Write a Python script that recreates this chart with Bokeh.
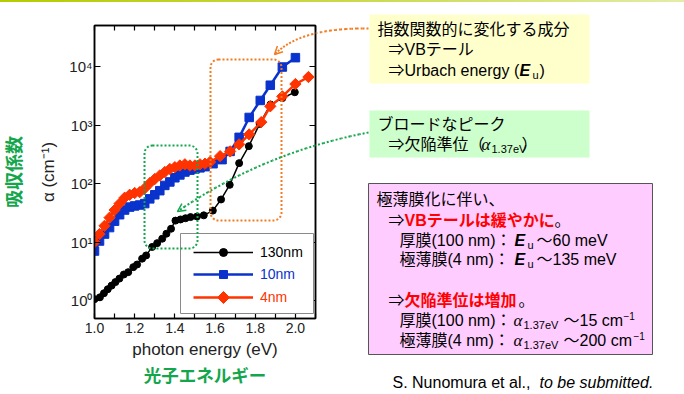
import numpy as np
from bokeh.plotting import figure
from bokeh.layouts import row, column
from bokeh.models import (Range1d, LinearScale, LogAxis, LinearAxis, Legend, LegendItem,
                          BoxAnnotation, Label, Arrow, OpenHead, ColumnDataSource, Div,
                          FixedTicker, CustomJSTickFormatter, PrintfTickFormatter)
from bokeh.embed import file_html
from bokeh.resources import INLINE

# ---------------- data ----------------
energy_130nm = [1.000, 1.027, 1.047, 1.066, 1.085, 1.104, 1.124, 1.146, 1.168, 1.193, 1.212,
                1.237, 1.257, 1.287, 1.312, 1.337, 1.358, 1.381, 1.403, 1.428, 1.453, 1.478,
                1.510, 1.544, 1.589, 1.630, 1.673, 1.720, 1.768, 1.822, 1.876, 1.935, 1.997]
alpha_130nm = [1.07, 1.15, 1.35, 1.58, 1.82, 2.09, 2.40, 2.82, 3.09, 3.76, 4.17,
               5.25, 5.96, 8.32, 9.66, 11.5, 14.0, 17.0, 23.4, 24.5, 25.7, 26.9,
               27.5, 28.8, 34.7, 53.7, 95.5, 224, 437, 1047, 2239, 2884, 3631]

energy_10nm = [1.000, 1.025, 1.050, 1.075, 1.100, 1.125, 1.150, 1.175, 1.200, 1.225, 1.250,
               1.275, 1.300, 1.325, 1.350, 1.375, 1.400, 1.425, 1.450, 1.475, 1.500, 1.525,
               1.550, 1.590, 1.635, 1.675, 1.720, 1.770, 1.825, 1.875, 1.935, 2.000]
alpha_10nm = [7.08, 10.5, 13.8, 17.8, 22.9, 29.5, 35.5, 39.8, 41.7, 43.2, 45.7,
              55.0, 64.6, 75.9, 93.3, 107, 126, 141, 158, 170, 178, 186,
              195, 219, 257, 355, 617, 1349, 2630, 4786, 9772, 14125]

energy_4nm = [1.000, 1.025, 1.050, 1.075, 1.100, 1.125, 1.150, 1.175, 1.200, 1.225, 1.250,
              1.275, 1.300, 1.325, 1.350, 1.375, 1.400, 1.425, 1.450, 1.475, 1.500, 1.525,
              1.550, 1.575, 1.625, 1.675, 1.720, 1.770, 1.830, 1.875, 1.935, 2.000, 2.065]
alpha_4nm = [10.0, 13.8, 19.1, 26.3, 35.5, 45.7, 57.5, 64.6, 69.2, 71.6, 83.2,
             102, 120, 138, 158, 178, 191, 204, 214, 204, 204, 214,
             219, 234, 295, 355, 468, 692, 1122, 2089, 3090, 5012, 6607]

series_labels = ["130nm", "10nm", "4nm"]
x_ticks = [1.0, 1.2, 1.4, 1.6, 1.8, 2.0]
x_minor_ticks = [1.1, 1.3, 1.5, 1.7, 1.9, 2.1]
y_ticks = [1, 10, 100, 1000, 10000]
y_tick_labels = ["10\u2070", "10\u00b9", "10\u00b2", "10\u00b3", "10\u2074"]

# ---------------- styles ----------------
BLACK = "#000000"
BLUE = "#0a32cc"
RED = "#ff3300"
GREEN = "#14a64c"
ORANGE = "#f47b20"
FONT = "Liberation Sans, Noto Sans CJK JP"
TOPLINE = 2   # height of the decorative rule at the top of the page

# ================= left figure: the chart =================
p = figure(width=317, height=394 - TOPLINE, output_backend="svg", toolbar_location=None,
           x_range=Range1d(1.0, 2.1), y_range=Range1d(0.5, 5e4), y_axis_type="log",
           min_border_left=94, min_border_right=2, min_border_top=25 - TOPLINE,
           min_border_bottom=76)
p.frame_align = False
p.xgrid.visible = False
p.ygrid.visible = False
p.outline_line_color = "black"
p.outline_line_width = 1.5
p.background_fill_color = "white"
p.border_fill_color = "white"

# pixel-coordinate ranges (reference image coords) for annotations inside the frame
p.extra_x_ranges = {"px": Range1d(94, 315)}
p.extra_y_ranges = {"py": Range1d(318, 25)}
p.extra_x_scales = {"px": LinearScale()}
p.extra_y_scales = {"py": LinearScale()}

# bottom axis
xa = p.xaxis[0]
xa.ticker = FixedTicker(ticks=x_ticks, minor_ticks=x_minor_ticks)
xa.formatter = PrintfTickFormatter(format="%.1f")
xa.major_tick_in = 5
xa.major_tick_out = 0
xa.minor_tick_in = 5
xa.minor_tick_out = 0
xa.axis_line_width = 1.5
xa.major_tick_line_width = 1.2
xa.minor_tick_line_width = 1.2
xa.major_label_text_font = FONT
xa.major_label_text_font_size = "14px"
xa.major_label_text_color = "#222222"
xa.major_label_standoff = 4
xa.axis_label = "photon energy (eV)"
xa.axis_label_text_font = FONT
xa.axis_label_text_font_size = "17px"
xa.axis_label_text_font_style = "normal"
xa.axis_label_text_color = "#222222"
xa.axis_label_standoff = 4

# left axis
ya = p.yaxis[0]
ya.ticker = FixedTicker(ticks=y_ticks, minor_ticks=[])
ya.formatter = CustomJSTickFormatter(args=dict(labels=y_tick_labels),
                                     code="return labels[Math.round(Math.log10(tick))];")
ya.major_tick_in = 6
ya.major_tick_out = 0
ya.axis_line_width = 1.5
ya.major_tick_line_width = 1.2
ya.major_label_text_font = FONT
ya.major_label_text_font_size = "15px"
ya.major_label_text_color = "#222222"
ya.major_label_standoff = 2
ya.axis_label = "\u03b1 (cm\u207b\u00b9)"
ya.axis_label_text_font = FONT
ya.axis_label_text_font_size = "17px"
ya.axis_label_text_font_style = "normal"
ya.axis_label_text_color = "#222222"
ya.axis_label_standoff = 8

# green Japanese captions as outer axes (no ticks, no line)
ya2 = LogAxis(ticker=FixedTicker(ticks=[], minor_ticks=[]), axis_line_color=None,
              major_tick_line_color=None, minor_tick_line_color=None,
              axis_label="吸収係数", axis_label_text_font=FONT, axis_label_text_font_size="18px",
              axis_label_text_font_style="bold", axis_label_text_color=GREEN,
              axis_label_standoff=12)
p.add_layout(ya2, "left")
xa2 = LinearAxis(ticker=FixedTicker(ticks=[], minor_ticks=[]), axis_line_color=None,
                 major_tick_line_color=None, minor_tick_line_color=None,
                 axis_label="光子エネルギー", axis_label_text_font=FONT,
                 axis_label_text_font_size="17.5px", axis_label_text_font_style="bold",
                 axis_label_text_color=GREEN, axis_label_standoff=4)
p.add_layout(xa2, "below")

blank = CustomJSTickFormatter(code="return '';")
ra = LogAxis(ticker=FixedTicker(ticks=y_ticks, minor_ticks=[]), formatter=blank,
             major_tick_in=6, major_tick_out=0, major_label_standoff=0,
             axis_line_width=1.5, major_tick_line_width=1.2)
p.add_layout(ra, "right")
ta = LinearAxis(ticker=FixedTicker(ticks=x_ticks, minor_ticks=x_minor_ticks), formatter=blank,
                major_tick_in=5, major_tick_out=0, minor_tick_in=5, minor_tick_out=0,
                major_label_standoff=0, axis_line_width=1.5,
                major_tick_line_width=1.2, minor_tick_line_width=1.2)
p.add_layout(ta, "above")

# ---------------- data glyphs ----------------
l130 = p.line(energy_130nm, alpha_130nm, line_color=BLACK, line_width=1.5)
s130 = p.scatter(energy_130nm, alpha_130nm, marker="circle", size=7, color=BLACK)
l10 = p.line(energy_10nm, alpha_10nm, line_color=BLUE, line_width=2.5)
s10 = p.scatter(energy_10nm, alpha_10nm, marker="square", size=8.5, color=BLUE)
l4 = p.line(energy_4nm, alpha_4nm, line_color=RED, line_width=2.5)
s4 = p.scatter(energy_4nm, alpha_4nm, marker="square", angle=np.pi / 4, size=8, color=RED)


def box(fig, l, r, t, b, fill=None, line=None, lw=1, dash="solid", radius=0, px=True):
    kw = dict(x_range_name="px", y_range_name="py") if px else {}
    ba = BoxAnnotation(left=l, right=r, top=t, bottom=b,
                       fill_color=fill if fill else "white", fill_alpha=1 if fill else 0,
                       line_color=line, line_alpha=1, line_width=lw, line_dash=dash,
                       border_radius=radius, level="annotation", **kw)
    fig.add_layout(ba)
    return ba


def lab(fig, x, y, text, size=16, color="black", style="normal", font=FONT, align="left"):
    lb = Label(x=x, y=y, text=text, text_font_size=f"{size}px", text_color=color,
               text_font_style=style, text_font=font, text_align=align,
               text_baseline="middle")
    fig.add_layout(lb)
    return lb


# legend frame
box(p, 180, 313, 233, 313, fill="white", line="#8a8a8a", lw=1)

legend_renderers = [[l130, s130], [l10, s10], [l4]]
for rends, lbl, col, vy in zip(legend_renderers, series_labels, [BLACK, BLUE, RED], [56, 34, 11]):
    leg = Legend(items=[LegendItem(label=lbl, renderers=rends)], location=(99, vy),
                 glyph_width=60, glyph_height=20, label_height=20, label_standoff=7,
                 padding=0, margin=0, spacing=0, border_line_color=None,
                 background_fill_alpha=0, label_text_color=col, label_text_font=FONT,
                 label_text_font_size="14px")
    p.add_layout(leg)

# diamond swatch for the 4nm legend entry (legend glyphs are drawn unrotated)
p.scatter(x=[223], y=[297], marker="square", angle=np.pi / 4, size=8.5, color=RED,
          x_range_name="px", y_range_name="py", level="overlay")

# dotted highlight boxes in the chart
box(p, 210, 281, 59, 220, line=ORANGE, lw=2, dash="2 2", radius=8)
box(p, 144, 197, 145, 248, line=GREEN, lw=2, dash="2 2", radius=8)


def curve(fig, p0, p1, p2, color, head, px=True, n=24):
    kw = dict(x_range_name="px", y_range_name="py") if px else {}
    t = np.linspace(0, 1, n)
    xs = (1 - t) ** 2 * p0[0] + 2 * (1 - t) * t * p1[0] + t ** 2 * p2[0]
    ys = (1 - t) ** 2 * p0[1] + 2 * (1 - t) * t * p1[1] + t ** 2 * p2[1]
    src = ColumnDataSource(dict(x0=xs[:-2], y0=ys[:-2], x1=xs[1:-1], y1=ys[1:-1]))
    fig.add_layout(Arrow(source=src, x_start="x0", y_start="y0", x_end="x1", y_end="y1",
                         end=None, line_color=color, line_width=2, line_dash="2 2", **kw))
    if head:
        fig.add_layout(Arrow(x_start=xs[-2], y_start=ys[-2], x_end=xs[-1], y_end=ys[-1],
                             end=OpenHead(size=8, line_color=color, line_width=1.5),
                             line_color=color, line_width=2, line_dash="2 2", **kw))


ORANGE_CURVE = ((368, 28), (300, 27), (274, 54))
GREEN_CURVE = ((368, 132), (263, 152), (177, 211))
curve(p, *ORANGE_CURVE, ORANGE, True)
curve(p, *GREEN_CURVE, GREEN, True)

# ================= right figure: the notes =================
q = figure(width=367, height=394 - TOPLINE, output_backend="svg", toolbar_location=None,
           x_range=Range1d(317, 684), y_range=Range1d(394, TOPLINE), min_border=0,
           x_axis_location=None, y_axis_location=None)
q.frame_align = False
q.xgrid.visible = False
q.ygrid.visible = False
q.outline_line_color = None
q.background_fill_color = "white"
q.border_fill_color = "white"

curve(q, *ORANGE_CURVE, ORANGE, False, px=False)
curve(q, *GREEN_CURVE, GREEN, False, px=False)

# yellow box
box(q, 369, 589, 14, 83, fill="#ffffcc", px=False)
lab(q, 377, 29, "指数関数的に変化する成分")
lab(q, 388, 49, "⇒VBテール")
lab(q, 388, 70, "⇒Urbach energy (")
lab(q, 519, 70, "E", style="bold italic")
lab(q, 532, 74, "u", size=11)
lab(q, 539, 70, ")")

# green box
box(q, 369, 589, 110, 157, fill="#ccffcc", px=False)
lab(q, 377, 124, "ブロードなピーク")
lab(q, 388, 144, "⇒欠陥準位（")
lab(q, 481, 144, "α", size=17, style="italic", font="Liberation Serif")
lab(q, 491, 148, "1.37eV", size=11)
lab(q, 521, 144, "）")

# pink box
box(q, 368, 652, 183, 354, fill="#ffccff", line="#555555", lw=1, px=False)
lab(q, 376, 199, "極薄膜化に伴い、")
lab(q, 388, 220, "⇒")
lab(q, 404, 220, "VBテールは緩やかに", color="#ff0000", style="bold")
lab(q, 554, 220, "。")
lab(q, 399, 240, "厚膜(100 nm)：")
lab(q, 514, 240, "E", style="bold italic")
lab(q, 527, 244, "u", size=11)
lab(q, 536, 240, "～60 meV")
lab(q, 399, 259, "極薄膜(4 nm)：")
lab(q, 514, 259, "E", style="bold italic")
lab(q, 527, 263, "u", size=11)
lab(q, 536, 259, "～135 meV")
lab(q, 388, 300, "⇒")
lab(q, 404, 300, "欠陥準位は増加", color="#ff0000", style="bold")
lab(q, 518, 300, "。")
lab(q, 399, 320, "厚膜(100 nm)：")
lab(q, 513, 320, "α", size=17, style="italic", font="Liberation Serif")
lab(q, 523, 324, "1.37eV", size=11)
lab(q, 563, 320, "～15 cm")
lab(q, 623, 315, "−1", size=10)
lab(q, 399, 340, "極薄膜(4 nm)：")
lab(q, 513, 340, "α", size=17, style="italic", font="Liberation Serif")
lab(q, 523, 344, "1.37eV", size=11)
lab(q, 563, 340, "～200 cm")
lab(q, 633, 335, "−1", size=10)

# citation
lab(q, 392, 382, "S. Nunomura et al., ")
lab(q, 539, 382, "to be submitted.", style="italic")

# decorative rule along the top of the slide
top_rule = Div(text="", width=684, height=TOPLINE, margin=0,
               styles={"background": "linear-gradient(to right, #b4cc00, #c9d94a 50%, #e4eca8)"})

layout = column(top_rule, row(p, q, spacing=0), spacing=0)
open("out.html", "w").write(file_html(layout, INLINE))
